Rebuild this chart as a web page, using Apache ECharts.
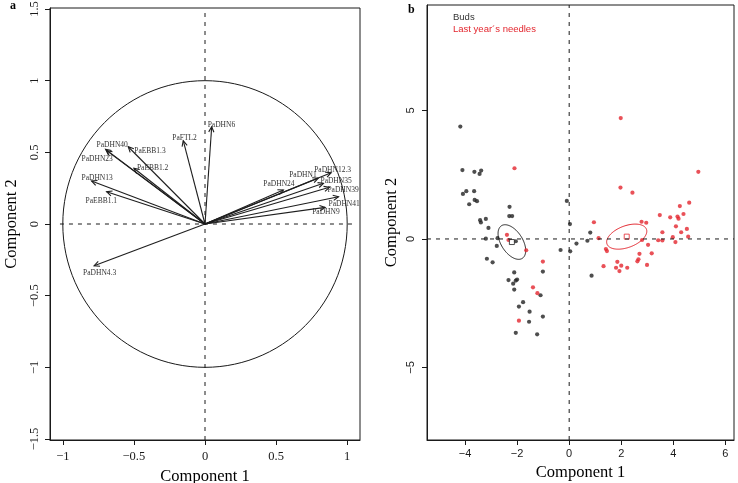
<!DOCTYPE html>
<html><head><meta charset="utf-8">
<script src="https://cdn.jsdelivr.net/npm/echarts@6/dist/echarts.min.js"></script>
<style>html,body{margin:0;padding:0;background:#fff}#c{width:738px;height:483px}</style>
</head><body><div id="c"></div>
<script>
// ---- Panel a: variable loadings (Component 1, Component 2) ----
const varNames = ['PaDHN6','PaFTL2','PaDHN40','PaDHN23','PaEBB1.3','PaEBB1.2','PaDHN13','PaEBB1.1','PaDHN4.3',
                  'PaDHN12.3','PaDHN1','PaDHN24','PaDHN35','PaDHN39','PaDHN41','PaDHN9'];
const varPC1 = [0.047,-0.153,-0.699,-0.692,-0.540,-0.500,-0.798,-0.692,-0.780, 0.887, 0.796, 0.551, 0.833, 0.875, 0.939, 0.845];
const varPC2 = [0.679, 0.581, 0.521, 0.512, 0.539, 0.389, 0.300, 0.225,-0.291, 0.358, 0.320, 0.237, 0.284, 0.256, 0.190, 0.116];

// ---- Panel b: individual scores ----
const budsPC1 = [-4.18,-4.10,-3.64,-3.44,-3.38,-4.08,-3.95,-3.65,-3.63,-3.54,-3.84,-2.29,-2.30,-2.19,-3.42,-3.20,-3.39,-3.10,-3.20,-2.75,
                 -2.78,-2.05,-3.16,-2.94,-0.09,0.03,-0.33,0.04,0.28,0.70,0.81,0.86,-2.11,-1.01,-2.33,-2.15,-2.05,-2.00,-2.11,-1.10,
                 -1.77,-1.93,-1.52,-1.01,-1.54,-2.05,-1.23];
const budsPC2 = [4.37,2.68,2.61,2.53,2.66,1.75,1.86,1.86,1.52,1.47,1.35,1.25,0.89,0.89,0.73,0.78,0.64,0.43,0.01,0.03,
                 -0.27,-0.09,-0.77,-0.91,1.48,0.58,-0.43,-0.48,-0.18,-0.07,0.25,-1.43,-1.30,-1.27,-1.60,-1.74,-1.62,-1.58,-1.97,-2.19,
                 -2.46,-2.63,-2.83,-3.02,-3.22,-3.65,-3.71];
const needlesPC1 = [-2.10,-2.39,-2.33,-1.65,-1.01,0.95,1.13,-1.39,-1.22,-1.93,1.98,4.96,1.97,2.43,4.25,4.61,4.39,3.48,3.88,4.16,
                    4.20,2.78,2.96,4.10,4.52,3.58,4.30,2.80,3.42,3.58,3.98,4.57,4.08,3.03,1.41,1.45,3.17,2.70,2.66,2.62,
                    1.85,1.32,1.80,2.00,2.23,2.99,1.93];
const needlesPC2 = [2.75,0.16,-0.04,-0.44,-0.88,0.65,0.03,-1.88,-2.11,-3.18,4.70,2.61,2.00,1.80,1.28,1.41,0.97,0.93,0.84,0.87,
                    0.79,0.67,0.63,0.49,0.39,0.26,0.26,-0.04,-0.05,-0.06,0.07,0.09,-0.12,-0.23,-0.39,-0.47,-0.56,-0.58,-0.79,-0.87,
                    -0.89,-1.06,-1.12,-1.04,-1.12,-1.01,-1.25];
const groupNames = ['Buds','Last year´s needles'];
const groupMeanPC1 = [-2.20, 2.21];
const groupMeanPC2 = [-0.12, 0.09];
const ellipseSemiMajor = [0.75, 0.81];
const ellipseSemiMinor = [0.415, 0.42];
const ellipseAngleDeg = [-58, 21];

// ---- Tick labels ----
const aXTicks = [-1,-0.5,0,0.5,1];
const aYTicks = [-1.5,-1,-0.5,0,0.5,1,1.5];
const bXTicks = [-4,-2,0,2,4,6];
const bYTicks = [-5,0,5];

// ---- styling ----
const RED = '#e3262e';
const INK = '#1a1a1a';
const SERIF = '"Liberation Serif","Times New Roman",serif';
const SANS = '"Liberation Sans",Arial,sans-serif';
// label placement relative to arrow tip: [dx, dy]
const labelOff = {
  'PaDHN6':[-4,-2],'PaFTL2':[-11,-3],'PaDHN40':[-9,-4],'PaDHN23':[-25,8],'PaEBB1.3':[6,4],'PaEBB1.2':[3,0],
  'PaDHN13':[-10,-3],'PaEBB1.1':[-21,9],'PaDHN4.3':[-11,7],'PaDHN12.3':[-17,-3],'PaDHN1':[-29,-3],
  'PaDHN24':[-20,-6],'PaDHN35':[-3,-2],'PaDHN39':[-2,3],'PaDHN41':[-10,7],'PaDHN9':[-13,5]
};
const minus = v => String(v).replace('-', '\u2212');

const chart = echarts.init(document.getElementById('c'), null, {renderer:'canvas'});

function ellipseItem(params, api){
  const cx = api.value(0), cy = api.value(1), a = api.value(2), b = api.value(3), th = api.value(4)*Math.PI/180;
  const pts = [];
  for (let k=0;k<=120;k++){
    const t = k/120*2*Math.PI;
    const x = cx + a*Math.cos(t)*Math.cos(th) - b*Math.sin(t)*Math.sin(th);
    const y = cy + a*Math.cos(t)*Math.sin(th) + b*Math.sin(t)*Math.cos(th);
    pts.push(api.coord([x,y]));
  }
  return {type:'polyline', shape:{points:pts}, style:{stroke:api.visual('color'), fill:null, lineWidth:1}};
}

function xAxisCfg(gi, min, max, ticks, font, size, margin, nameGap){
  return {type:'value', gridIndex:gi, min, max, name:'Component 1', nameLocation:'middle', nameGap,
    nameTextStyle:{fontFamily:SERIF, fontSize:16.5, color:'#000'},
    splitLine:{show:false},
    axisLine:{show:true, onZero:false, lineStyle:{color:INK, width:1}},
    axisTick:{show:true, length:5, lineStyle:{color:INK}, customValues:ticks},
    axisLabel:{fontFamily:font, fontSize:size, color:INK, margin, customValues:ticks, formatter:minus, showMinLabel:true, showMaxLabel:true}};
}
function yAxisCfg(gi, min, max, ticks, font, size, nameGap, margin){
  return {type:'value', gridIndex:gi, min, max, name:'Component 2', nameLocation:'middle', nameGap,
    nameTextStyle:{fontFamily:SERIF, fontSize:16.5, color:'#000'},
    splitLine:{show:false},
    axisLine:{show:true, onZero:false, lineStyle:{color:INK, width:1}},
    axisTick:{show:true, length:5, lineStyle:{color:INK}, customValues:ticks},
    axisLabel:{fontFamily:font, fontSize:size, color:INK, rotate:90, margin, customValues:ticks, formatter:minus}};
}

const option = {
  animation:false,
  backgroundColor:'#fff',
  grid:[
    {left:50, top:8, width:310, height:432, show:true, borderColor:INK, borderWidth:1, backgroundColor:'transparent',
     containLabel:false, outerBoundsMode:'none'},
    {left:427, top:5, width:307, height:435, show:true, borderColor:INK, borderWidth:1, backgroundColor:'transparent',
     containLabel:false, outerBoundsMode:'none'}
  ],
  xAxis:[ xAxisCfg(0,-1.09,1.09,aXTicks,SERIF,12.5,10,15), xAxisCfg(1,-5.46,6.33,bXTicks,SANS,11,8,20) ],
  yAxis:[ yAxisCfg(0,-1.507,1.507,aYTicks,SERIF,12.5,30,9), yAxisCfg(1,-7.82,9.10,bYTicks,SANS,11,27,11) ],
  legend:{
    orient:'vertical', left:443, top:7, icon:'none', itemWidth:0, itemHeight:10, itemGap:2.6,
    textStyle:{fontFamily:SANS, fontSize:9.5, padding:0},
    data:[{name:groupNames[0], textStyle:{color:'#333'}},{name:groupNames[1], textStyle:{color:RED}}],
    selectedMode:false
  },
  graphic:[
    {type:'text', left:10, top:0, style:{text:'a', font:'bold 12px '+SERIF, fill:'#000'}},
    {type:'text', left:408, top:4, style:{text:'b', font:'bold 12px '+SERIF, fill:'#000'}}
  ],
  series:[
    // panel a reference lines
    {type:'line', xAxisIndex:0, yAxisIndex:0, data:[[-1.02,0],[1.04,0]], symbol:'none', silent:true,
     lineStyle:{color:INK, width:1, type:[4,5]}},
    {type:'line', xAxisIndex:0, yAxisIndex:0, data:[[0,-1.507],[0,1.507]], symbol:'none', silent:true,
     lineStyle:{color:INK, width:1, type:[4,5]}},
    // unit circle
    {type:'custom', xAxisIndex:0, yAxisIndex:0, data:[[0,0,1,1,0]], renderItem:ellipseItem, itemStyle:{color:INK}, silent:true, clip:false},
    // arrows
    {type:'custom', xAxisIndex:0, yAxisIndex:0, silent:true, clip:false,
     data: varNames.map((n,i)=>[varPC1[i], varPC2[i]]),
     renderItem(params, api){
       const o = api.coord([0,0]);
       const t = api.coord([api.value(0), api.value(1)]);
       const ang = Math.atan2(t[1]-o[1], t[0]-o[0]);
       const L = 6, w = Math.PI/7;
       const p1 = [t[0]-L*Math.cos(ang-w), t[1]-L*Math.sin(ang-w)];
       const p2 = [t[0]-L*Math.cos(ang+w), t[1]-L*Math.sin(ang+w)];
       const name = varNames[params.dataIndex];
       const off = labelOff[name] || [0,0];
       return {type:'group', children:[
         {type:'line', shape:{x1:o[0],y1:o[1],x2:t[0],y2:t[1]}, style:{stroke:'#1e1e1e', lineWidth:1.1}},
         {type:'polyline', shape:{points:[p1,t,p2]}, style:{stroke:'#1e1e1e', fill:null, lineWidth:1.1}},
         {type:'text', x:t[0]+off[0], y:t[1]+off[1], style:{text:name, font:'7.5px '+SERIF, fill:'#333', align:'left', verticalAlign:'middle'}}
       ]};
     }},
    // panel b reference lines
    {type:'line', xAxisIndex:1, yAxisIndex:1, data:[[-5.46,0],[6.33,0]], symbol:'none', silent:true,
     lineStyle:{color:INK, width:1, type:[4,5]}},
    {type:'line', xAxisIndex:1, yAxisIndex:1, data:[[0,-7.82],[0,9.10]], symbol:'none', silent:true,
     lineStyle:{color:INK, width:1, type:[4,5]}},
    {name:groupNames[0], type:'scatter', xAxisIndex:1, yAxisIndex:1, symbol:'circle', symbolSize:4.2,
     itemStyle:{color:'#222'}, data: budsPC1.map((x,i)=>[x, budsPC2[i]])},
    {name:groupNames[1], type:'scatter', xAxisIndex:1, yAxisIndex:1, symbol:'circle', symbolSize:4.2,
     itemStyle:{color:RED}, data: needlesPC1.map((x,i)=>[x, needlesPC2[i]])},
    // group ellipses
    {type:'custom', xAxisIndex:1, yAxisIndex:1, silent:true, clip:false,
     data:[0,1].map(g=>({value:[groupMeanPC1[g], groupMeanPC2[g], ellipseSemiMajor[g], ellipseSemiMinor[g], ellipseAngleDeg[g]],
                         itemStyle:{color: g===0 ? '#222' : RED}})),
     renderItem:ellipseItem},
    // group means
    {type:'scatter', xAxisIndex:1, yAxisIndex:1, symbol:'rect', symbolSize:5, silent:true,
     data:[0,1].map(g=>({value:[groupMeanPC1[g], groupMeanPC2[g]], itemStyle:{color:'#fff', borderColor: g===0 ? '#222' : RED, borderWidth:1}}))}
  ]
};
chart.setOption(option);
</script></body></html>
